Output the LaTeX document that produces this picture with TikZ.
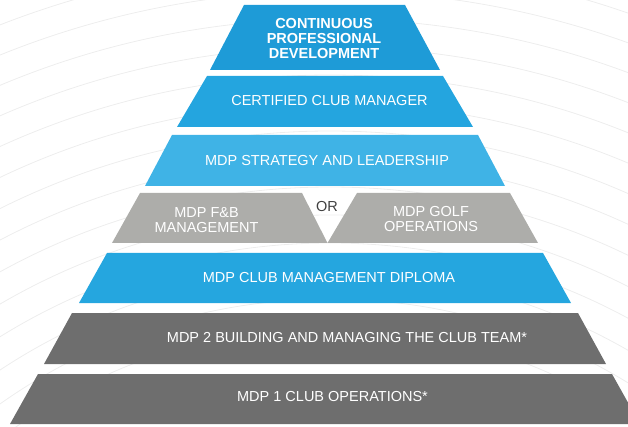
\documentclass[tikz,border=0pt]{standalone}
\usepackage{fontspec}
\setmainfont{Liberation Sans}
\usepackage{xcolor}

\definecolor{cpdblue}{HTML}{1E9BD7}
\definecolor{ccmblue}{HTML}{24A5DF}
\definecolor{lightblue}{HTML}{3FB3E6}
\definecolor{midblue}{HTML}{25A6DF}
\definecolor{lightgrey}{HTML}{ADADAA}
\definecolor{darkgrey}{HTML}{6E6E6E}

\begin{document}
\begin{tikzpicture}[x=1pt, y=-1pt,
    tier/.style={text=white, font=\fontsize{14.5}{15.3}\selectfont, anchor=base, inner sep=0pt},
    toptier/.style={tier, font=\fontsize{14.5}{15.3}\selectfont\bfseries, align=center},
    ring/.style={draw=black!7, line width=0.8pt}]

  \useasboundingbox (0,0) rectangle (628,427);
  \clip (0,0) rectangle (628,427);

  % Background rings
  \foreach \r in {543,571,...,907} {
    \draw[ring] (330,870) circle (\r);
  }

  % Continuous professional development
  \fill[cpdblue] (244,5) -- (405,5) -- (440,70) -- (210,70) -- cycle;
  \node[toptier] (cpd) at (324,59) {CONTINUOUS\\PROFESSIONAL\\DEVELOPMENT};

  % Certified club manager
  \fill[ccmblue] (207,76) -- (443,76) -- (473,127) -- (177,127) -- cycle;
  \node[tier] (ccm) at (329.5,106) {CERTIFIED CLUB MANAGER};

  % Strategy and leadership
  \fill[lightblue] (172,135) -- (478,135) -- (505,186) -- (145,186) -- cycle;
  \node[tier] (strat) at (327,166) {MDP STRATEGY AND LEADERSHIP};

  % F&B or golf
  \fill[lightgrey] (140,193) -- (302,193) -- (327.5,243) -- (112,243) -- cycle;
  \fill[lightgrey] (357,193) -- (510,193) -- (538,243) -- (327.5,243) -- cycle;
  \node[tier, align=center] (fnb) at (206.5,233) {MDP F\&B\\MANAGEMENT};
  \node[tier, text=black!75] (or) at (327,211.5) {OR};
  \node[tier, align=center] (golf) at (431,231.5) {MDP GOLF\\OPERATIONS};

  % Club management diploma
  \fill[midblue] (107,253) -- (543,253) -- (571,303) -- (79,303) -- cycle;
  \node[tier] (dipl) at (329,283) {MDP CLUB MANAGEMENT DIPLOMA};

  % MDP 2
  \fill[darkgrey] (72,313) -- (578,313) -- (606,364) -- (44,364) -- cycle;
  \node[tier] (mdp2) at (347,342.5) {MDP 2 BUILDING AND MANAGING THE CLUB TEAM*};

  % MDP 1
  \fill[darkgrey] (38,374) -- (612,374) -- (640,424) -- (10,424) -- cycle;
  \node[tier] (mdp1) at (332.5,401) {MDP 1 CLUB OPERATIONS*};

\end{tikzpicture}
\end{document}
